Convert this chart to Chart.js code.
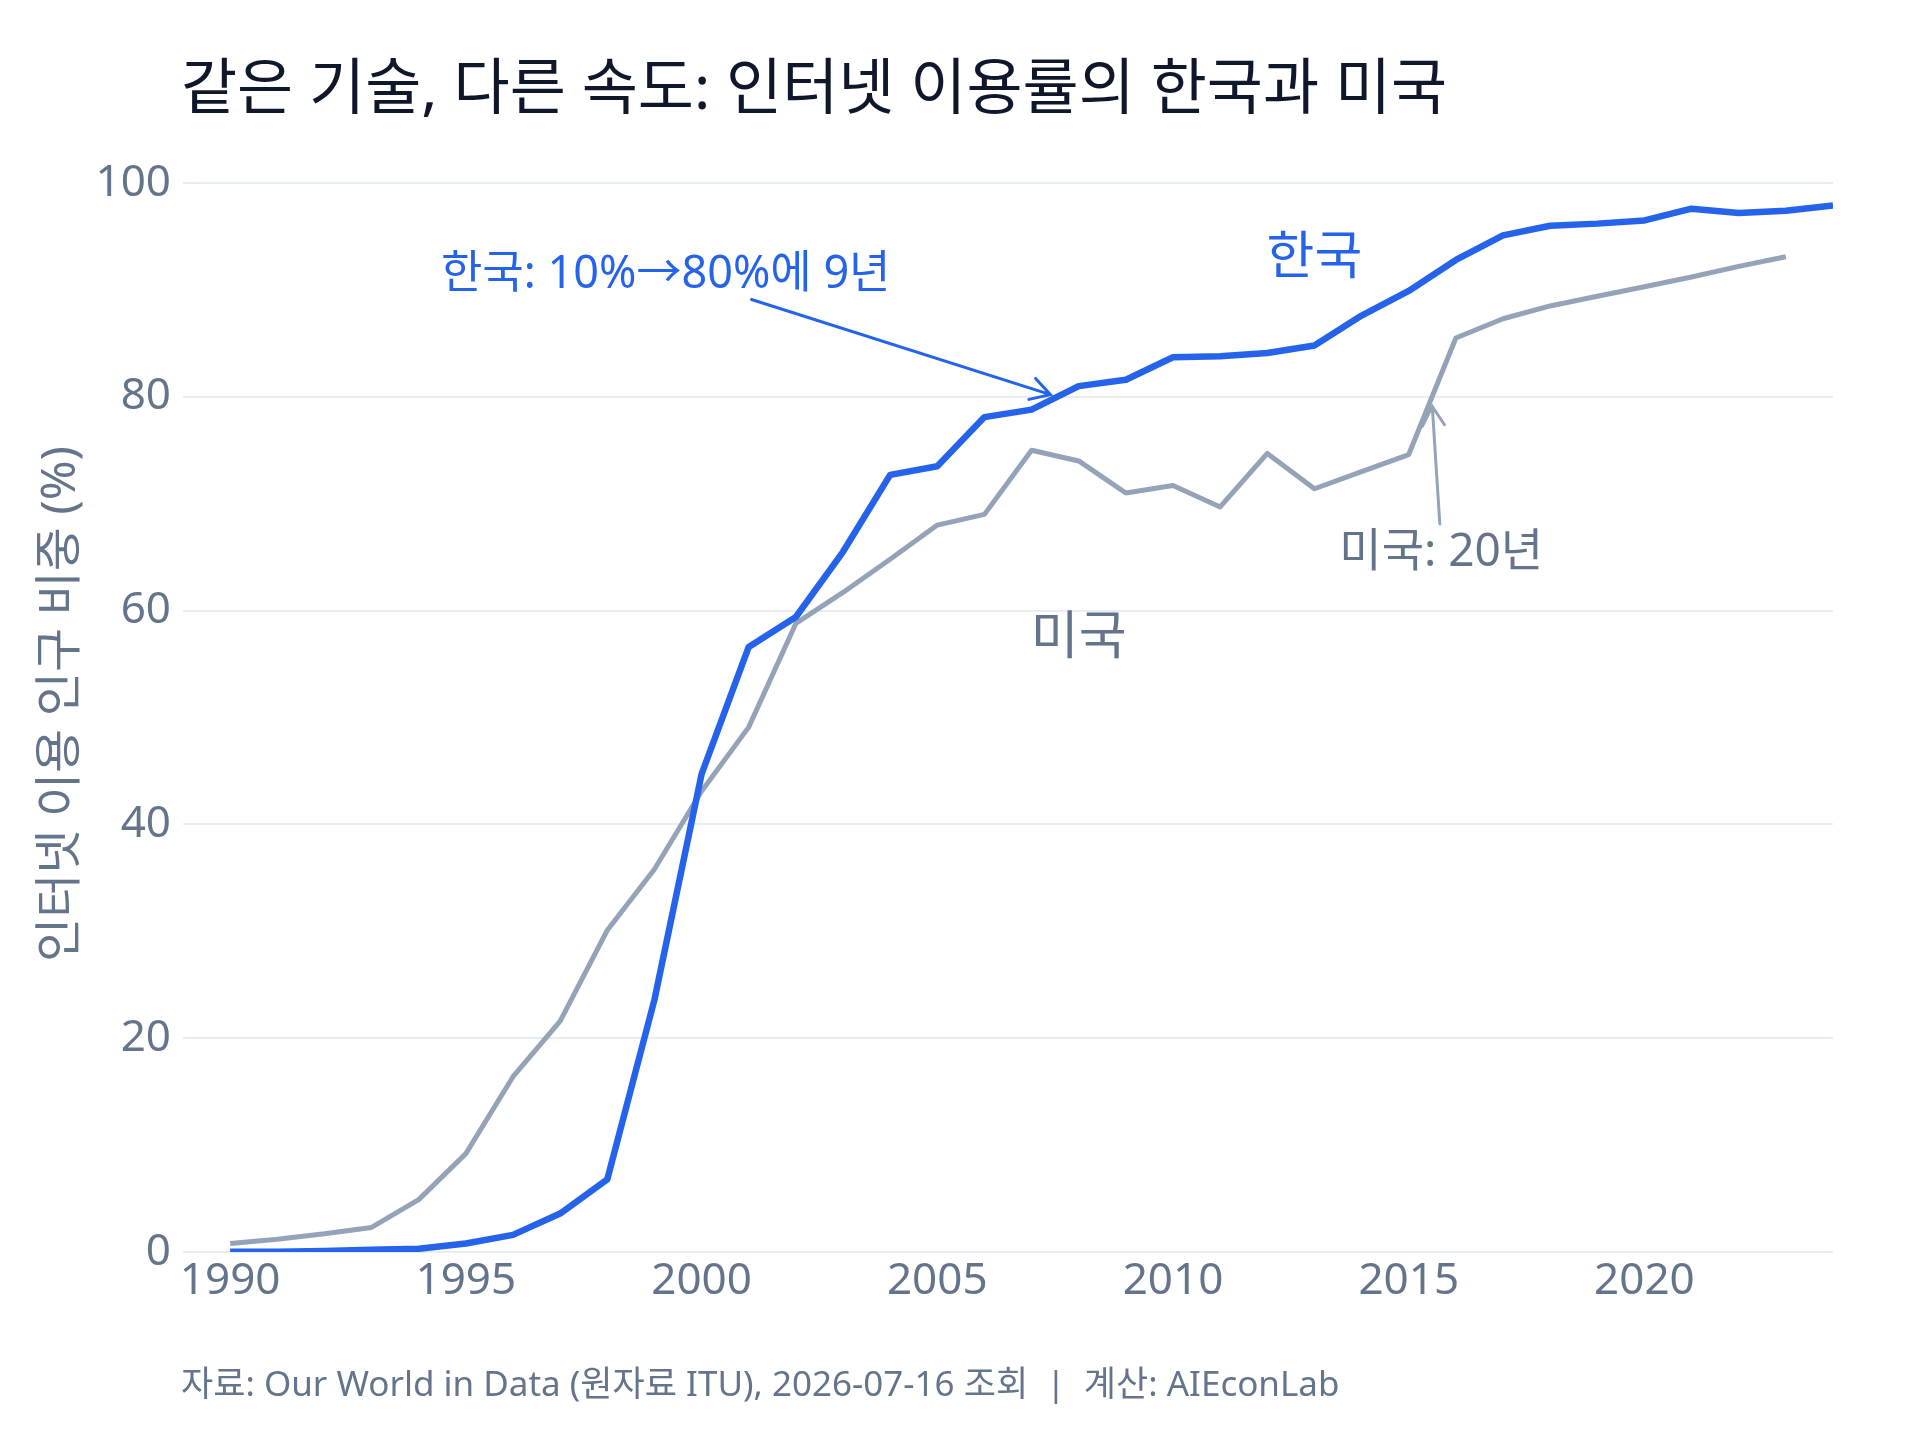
<!DOCTYPE html>
<html lang="ko">
<head>
<meta charset="utf-8">
<title>인터넷 이용률: 한국과 미국</title>
<script src="https://cdn.jsdelivr.net/npm/chart.js@4.4.1/dist/chart.umd.min.js"></script>
<style>
    html, body { margin: 0; padding: 0; background: #ffffff; }
    #wrap { position: relative; width: 1920px; height: 1440px; font-family: "Noto Sans", "Noto Sans CJK KR", sans-serif; }
    #chart { position: absolute; left: 0; top: 0; }
    #title { position: absolute; left: 181px; top: 55px; font-size: 61px; line-height: 1; color: #0f172a; white-space: nowrap; }
    #footer { position: absolute; left: 181px; top: 1365px; font-size: 35px; line-height: 1; color: #64748b; white-space: pre; }
</style>
</head>
<body>
<div id="wrap">
    <canvas id="chart" width="1920" height="1440"></canvas>
    <div id="title">같은 기술, 다른 속도: 인터넷 이용률의 한국과 미국</div>
    <div id="footer">자료: Our World in Data (원자료 ITU), 2026-07-16 조회  |  계산: AIEconLab</div>
</div>
<script>
// Years on the x axis
const years = [1990, 1991, 1992, 1993, 1994, 1995, 1996, 1997, 1998, 1999,
    2000, 2001, 2002, 2003, 2004, 2005, 2006, 2007, 2008, 2009,
    2010, 2011, 2012, 2013, 2014, 2015, 2016, 2017, 2018, 2019,
    2020, 2021, 2022, 2023, 2024];

// Share of population using the internet (%)
const koreaValues = [0.02, 0.03, 0.1, 0.2, 0.3, 0.8, 1.6, 3.6, 6.8, 23.6,
    44.7, 56.6, 59.4, 65.5, 72.7, 73.5, 78.1, 78.8, 81.0, 81.6,
    83.7, 83.8, 84.1, 84.8, 87.6, 89.9, 92.8, 95.1, 96.0, 96.2,
    96.5, 97.6, 97.2, 97.4, 97.9];

const usValues = [0.8, 1.2, 1.7, 2.3, 4.9, 9.2, 16.4, 21.6, 30.1, 35.8,
    43.1, 49.1, 58.8, 61.7, 64.8, 68.0, 69.0, 75.0, 74.0, 71.0,
    71.7, 69.7, 74.7, 71.4, 73.0, 74.6, 85.5, 87.3, 88.5, 89.4,
    90.3, 91.2, 92.2, 93.1];

const xTicks = [1990, 1995, 2000, 2005, 2010, 2015, 2020];
const yTicks = [0, 20, 40, 60, 80, 100];

const KOREA_COLOR = '#2563eb';
const US_COLOR = '#94a3b8';
const TEXT_GRAY = '#64748b';
const FONT = '"Noto Sans", "Noto Sans CJK KR", sans-serif';

// Text labels and arrows, placed in data coordinates
const labels = [
    { text: '한국', x: 2013.0, y: 92.9, color: KOREA_COLOR, size: 52 },
    { text: '미국', x: 2008.0, y: 57.3, color: TEXT_GRAY, size: 52 },
    { text: '한국: 10%→80%에 9년', x: 1999.24, y: 91.4, color: KOREA_COLOR, size: 45 },
    { text: '미국: 20년', x: 2015.69, y: 65.4, color: TEXT_GRAY, size: 46 }
];
const arrows = [
    { from: [2001.06, 89.1], to: [2007.4, 80.2], color: KOREA_COLOR, width: 3 },
    { from: [2015.66, 68.1], to: [2015.5, 79.1], color: US_COLOR, width: 3 }
];

const points = (vals) => vals.map((v, i) => ({ x: years[i], y: v }));

// Draw the labels, arrows and y axis title on top of the lines
const annotationPlugin = {
    id: 'annotations',
    afterDatasetsDraw(chart) {
        const { ctx, scales: { x, y } } = chart;
        ctx.save();
        arrows.forEach(a => {
            const x1 = x.getPixelForValue(a.from[0]), y1 = y.getPixelForValue(a.from[1]);
            const x2 = x.getPixelForValue(a.to[0]), y2 = y.getPixelForValue(a.to[1]);
            const ang = Math.atan2(y2 - y1, x2 - x1);
            const len = 22, spread = Math.PI / 6;
            ctx.strokeStyle = a.color;
            ctx.lineWidth = a.width;
            ctx.lineCap = 'round';
            ctx.beginPath();
            ctx.moveTo(x1, y1);
            ctx.lineTo(x2, y2);
            ctx.moveTo(x2 - len * Math.cos(ang - spread), y2 - len * Math.sin(ang - spread));
            ctx.lineTo(x2, y2);
            ctx.lineTo(x2 - len * Math.cos(ang + spread), y2 - len * Math.sin(ang + spread));
            ctx.stroke();
        });
        ctx.textAlign = 'center';
        ctx.textBaseline = 'middle';
        labels.forEach(l => {
            ctx.font = `${l.size}px ${FONT}`;
            ctx.fillStyle = l.color;
            ctx.fillText(l.text, x.getPixelForValue(l.x), y.getPixelForValue(l.y));
        });
        // y axis title, rotated
        ctx.translate(61, 704);
        ctx.rotate(-Math.PI / 2);
        ctx.font = `48px ${FONT}`;
        ctx.fillStyle = TEXT_GRAY;
        ctx.fillText('인터넷 이용 인구 비중 (%)', 0, 0);
        ctx.restore();
    }
};

new Chart(document.getElementById('chart'), {
    type: 'line',
    data: {
        datasets: [
            {
                label: '한국',
                data: points(koreaValues),
                borderColor: KOREA_COLOR,
                borderWidth: 6.5,
                borderJoinStyle: 'round',
                pointRadius: 0,
                tension: 0
            },
            {
                label: '미국',
                data: points(usValues),
                borderColor: US_COLOR,
                borderWidth: 5,
                borderJoinStyle: 'round',
                pointRadius: 0,
                tension: 0
            }
        ]
    },
    options: {
        responsive: false,
        animation: false,
        devicePixelRatio: 1,
        layout: { padding: { top: 183, right: 87, left: 0, bottom: 0 } },
        plugins: {
            legend: { display: false },
            tooltip: { enabled: false }
        },
        scales: {
            x: {
                type: 'linear',
                min: 1989,
                max: 2024,
                grid: { display: false },
                border: { display: false },
                afterBuildTicks: axis => { axis.ticks = xTicks.map(v => ({ value: v })); },
                afterFit: scale => { scale.height = 188; },
                ticks: {
                    color: TEXT_GRAY,
                    font: { family: FONT, size: 44 },
                    padding: -5,
                    maxRotation: 0,
                    callback: v => String(v)
                }
            },
            y: {
                min: 0,
                max: 100,
                afterBuildTicks: axis => { axis.ticks = yTicks.map(v => ({ value: v })); },
                afterFit: scale => { scale.width = 183; },
                grid: { color: '#e8ecf3', lineWidth: 2, drawTicks: false },
                border: { display: false },
                ticks: {
                    color: TEXT_GRAY,
                    font: { family: FONT, size: 44 },
                    padding: 12
                }
            }
        }
    },
    plugins: [annotationPlugin]
});
</script>
</body>
</html>
